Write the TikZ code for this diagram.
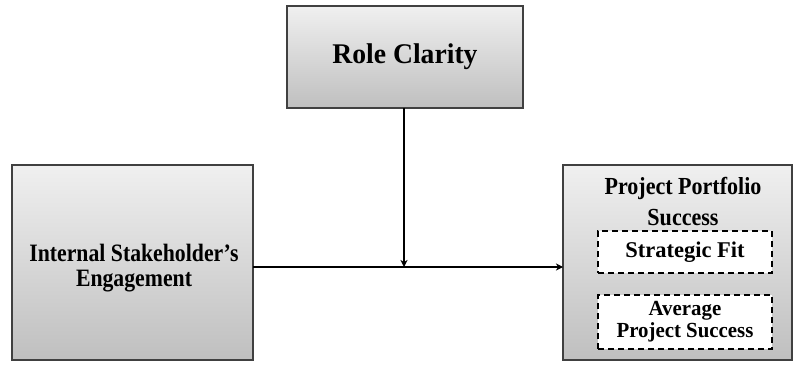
\documentclass[tikz,border=0pt]{standalone}
\usepackage{fontspec}
\setmainfont{Liberation Serif}
\newfontfamily\condA[FakeStretch=0.97]{Liberation Serif}
\newfontfamily\condB[FakeStretch=0.87]{Liberation Serif}
\newfontfamily\condC[FakeStretch=0.9]{Liberation Serif}
\usetikzlibrary{arrows.meta}
\begin{document}
\begin{tikzpicture}[x=1pt,y=-1pt,
  gbox/.style={draw=black!75, line width=1.3pt, top color=black!6, bottom color=black!25,
    inner sep=0pt, outer sep=0pt, align=center},
  dbox/.style={draw=black, dashed, dash pattern=on 6pt off 4pt, line width=1.6pt, fill=white,
    inner sep=0pt, outer sep=0pt, align=center, minimum width=174pt},
  conn/.style={line width=1.4pt, -{Stealth[length=7pt,width=7pt,inset=2pt]}}]
\useasboundingbox (0,0) rectangle (794,369);
\node[gbox, minimum width=236pt, minimum height=102pt] (role) at (405,57) {};
\node[font=\condA\fontsize{28.5}{30}\selectfont\bfseries] (roletxt) at (405,57) {Role Clarity};
\node[gbox, minimum width=241pt, minimum height=195pt] (ise) at (132.5,262.5) {};
\node[align=center, inner sep=1pt, font=\condB\fontsize{25}{25}\selectfont\bfseries] (isetxt) at (134,268) {Internal Stakeholder’s\\Engagement};
\node[gbox, minimum width=229pt, minimum height=195pt] (pps) at (677.5,262.5) {};
\node[align=center, inner sep=1pt, font=\condC\fontsize{24.5}{31}\selectfont\bfseries] (ppstxt) at (683,202) {Project Portfolio\\Success};
\node[dbox, minimum height=42pt, font=\fontsize{22.5}{24}\selectfont\bfseries] (sf) at (685,252) {Strategic Fit};
\node[dbox, minimum height=54pt, font=\condA\fontsize{21.5}{22}\selectfont\bfseries] (aps) at (685,322) {Average\\Project Success};
\coordinate (j) at (404,267);
\draw[line width=1.4pt] (ise.east |- j) -- (j);
\draw[conn] (j) -- (j -| pps.west);
\draw[conn] (role.south -| j) -- (j);
\end{tikzpicture}
\end{document}
